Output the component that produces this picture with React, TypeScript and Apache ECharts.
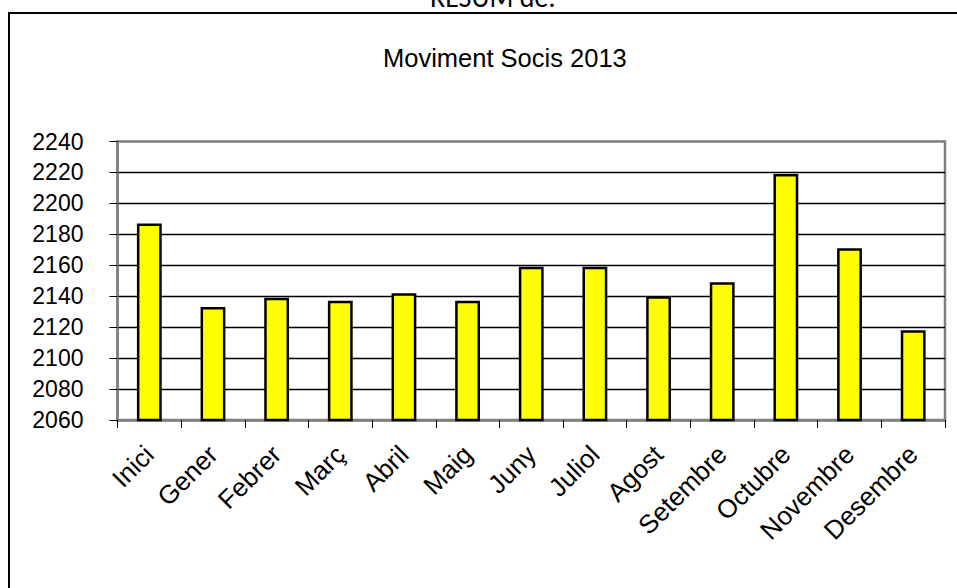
import React, { useEffect, useRef } from "react";
import * as echarts from "echarts";

const categories = ["Inici", "Gener", "Febrer", "Març", "Abril", "Maig", "Juny", "Juliol", "Agost", "Setembre", "Octubre", "Novembre", "Desembre"];
const values = [2187, 2133, 2139, 2137, 2142, 2137, 2159, 2159, 2140, 2149, 2219, 2171, 2118];
const yMin = 2060;
const yMax = 2240;
const yStep = 20;
const titleText = "Moviment Socis 2013";
const headerText = "RESUM de:";

const FONT = "Arial, 'Liberation Sans', sans-serif";

export default function App() {
  const ref = useRef<HTMLDivElement>(null);
  useEffect(() => {
    if (!ref.current) return;
    const chart = echarts.init(ref.current, null, { renderer: "svg" });
    const gridColors = ["#808080", "#000", "#000", "#000", "#000", "#000", "#000", "#000", "#000", "#808080"];
    chart.setOption({
      animation: false,
      backgroundColor: "#ffffff",
      title: {
        text: titleText,
        left: 378,
        top: 40,
        textStyle: { fontFamily: FONT, fontSize: 25.5, fontWeight: "normal", color: "#000" },
      },
      graphic: [
        {
          type: "text",
          left: 430,
          top: -17,
          style: { text: headerText, fontFamily: "Carlito, 'Liberation Sans', Arial, sans-serif", fontSize: 28, fill: "#000" },
        },
        {
          type: "rect",
          shape: { x: 9, y: 13, width: 1200, height: 1200 },
          style: { fill: "none", stroke: "#000", lineWidth: 2 },
          silent: true,
        },
      ],
      grid: {
        left: 117.5,
        right: 12,
        top: 141.5,
        bottom: 168,
        show: true,
        borderColor: "#808080",
        borderWidth: 2.5,
        backgroundColor: "#fff",
      },
      xAxis: {
        type: "category",
        data: categories,
        axisLine: { show: true, lineStyle: { color: "#808080", width: 2.5 } },
        axisTick: { show: true, alignWithLabel: false, length: 8, lineStyle: { color: "#000", width: 1 } },
        axisLabel: { rotate: 45, fontFamily: FONT, fontSize: 26, color: "#000", margin: 30, interval: 0 },
        splitLine: { show: false },
      },
      yAxis: {
        type: "value",
        min: yMin,
        max: yMax,
        interval: yStep,
        axisLine: { show: true, lineStyle: { color: "#808080", width: 2.5 } },
        axisTick: { show: true, inside: false, length: 8, lineStyle: { color: "#000", width: 1 } },
        axisLabel: { fontFamily: FONT, fontSize: 23, color: "#000", margin: 34, formatter: (v: number) => String(v) },
        splitLine: { show: true, lineStyle: { color: gridColors, width: 1.3 } },
      },
      series: [
        {
          type: "bar",
          data: values,
          barWidth: "39%",
          itemStyle: { color: "#ffff00", borderColor: "#000", borderWidth: 2.5 },
        },
      ],
    });
    return () => chart.dispose();
  }, []);
  return <div ref={ref} style={{ position: "absolute", left: 0, top: 0, width: 957, height: 588 }} />;
}
